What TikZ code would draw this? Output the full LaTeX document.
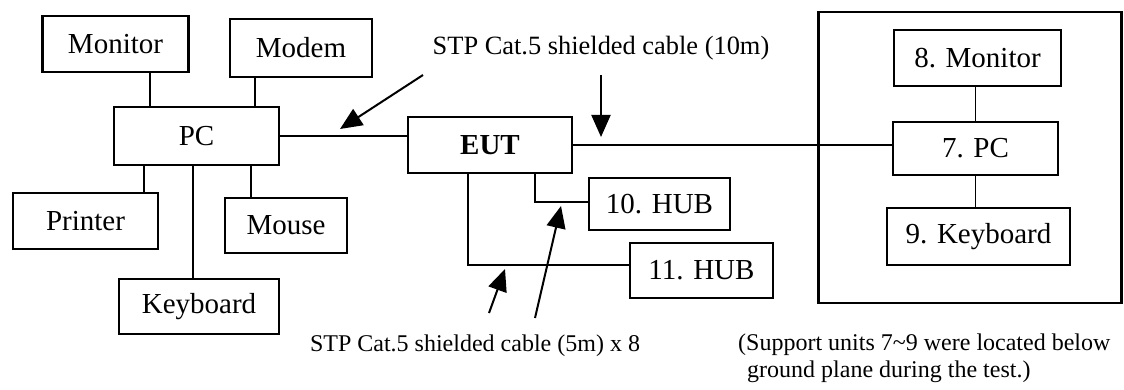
\documentclass[tikz,border=0pt]{standalone}
\usepackage{fontspec}
\setmainfont{Liberation Serif}
\usetikzlibrary{arrows.meta,positioning,calc}

\begin{document}
\begin{tikzpicture}[
    x=1pt, y=-1pt,
    box/.style={rectangle, draw, line width=2.2pt, inner sep=0pt, align=center, font=\fontsize{29}{34}\selectfont},
    wire/.style={line width=1.9pt},
    arrow/.style={-{Triangle[length=22pt,width=19pt]}, line width=2pt},
    cabletext/.style={inner sep=0pt, font=\fontsize{24}{27}\selectfont}
]
\useasboundingbox (0,0) rectangle (1124,390);

% Host PC and its peripherals
\node[box, minimum width=146pt, minimum height=56pt] (monitor) at (115.5,44) {Monitor};
\node[box, minimum width=142pt, minimum height=58pt] (modem) at (301,48) {Modem};
\node[box, minimum width=165pt, minimum height=58pt] (pc) at (196.5,136) {PC};
\node[box, minimum width=145pt, minimum height=56pt] (printer) at (85.5,221) {Printer};
\node[box, minimum width=122pt, minimum height=55pt] (mouse) at (286,225.5) {Mouse};
\node[box, minimum width=160pt, minimum height=55pt] (keyboard) at (199,306.5) {Keyboard};

% EUT and hubs
\node[box, minimum width=164pt, minimum height=56pt] (eut) at (490,145) {\textbf{EUT}};
\node[box, minimum width=141pt, minimum height=52pt] (hubten) at (659.5,204) {10. HUB};
\node[box, minimum width=143pt, minimum height=55pt] (hubeleven) at (701.5,270.5) {11. HUB};

% Support units below the ground plane
\node[draw, line width=2.2pt, minimum width=303pt, minimum height=291pt] (support) at (970,157.5) {};
\node[box, minimum width=167pt, minimum height=56pt] (monitoreight) at (977.5,58) {8. Monitor};
\node[box, minimum width=165pt, minimum height=53pt] (pcseven) at (975.5,148.5) {7. PC};
\node[box, minimum width=183pt, minimum height=57pt] (keyboardnine) at (978.5,236.5) {9. Keyboard};

% Where the cables leave the boxes
\coordinate (monx) at (150,0);
\coordinate (modx) at (255,0);
\coordinate (prnx) at (144,0);
\coordinate (kbdx) at (193,0);
\coordinate (msex) at (251,0);
\coordinate (hubtenx) at (535,0);
\coordinate (hubelevenx) at (468,0);

% Cables
\draw[wire] (monitor.south -| monx) -- (pc.north -| monx);
\draw[wire] (modem.south -| modx) -- (pc.north -| modx);
\draw[wire] (pc.south -| prnx) -- (printer.north -| prnx);
\draw[wire] (pc.south -| kbdx) -- (keyboard.north -| kbdx);
\draw[wire] (pc.south -| msex) -- (mouse.north -| msex);
\draw[wire] (pc.east) -- (pc.east -| eut.west);
\draw[wire] (eut.east) -- (eut.east -| pcseven.west);
\draw[wire] (eut.south -| hubtenx) |- ([yshift=2pt]hubten.west);
\draw[wire] (eut.south -| hubelevenx) |- ([yshift=5.5pt]hubeleven.west);
\draw[wire] (monitoreight.south -| pcseven.north) -- (pcseven.north);
\draw[wire] (pcseven.south) -- (pcseven.south |- keyboardnine.north);

% Cable labels
\node[cabletext, font=\fontsize{26.4}{30}\selectfont] (longcable) at (601,48) {STP Cat.5 shielded cable (10m)};
\node[cabletext] (shortcable) at (475,346) {STP Cat.5 shielded cable (5m) x 8};
\node[cabletext, anchor=west, align=left] (note) at (738,358) {(Support units 7\textasciitilde9 were located below\\\hspace*{9pt}ground plane during the test.)};

% Pointers
\coordinate (tipa) at (340,129);
\coordinate (taila) at (423,75);
\coordinate (tipb) at (601,137);
\coordinate (tailb) at (601,75);
\coordinate (tipc) at (505,269);
\coordinate (tailc) at (489,313);
\coordinate (tipd) at (561,206);
\coordinate (taild) at (535,318);
\draw[arrow] (taila) -- (tipa);
\draw[arrow] (tailb) -- (tipb);
\draw[arrow] (tailc) -- (tipc);
\draw[arrow] (taild) -- (tipd);

\end{tikzpicture}
\end{document}
